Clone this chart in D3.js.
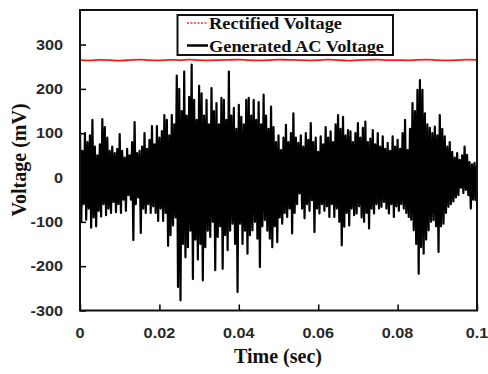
<!DOCTYPE html>
<html><head><meta charset="utf-8">
<script src="https://cdn.jsdelivr.net/npm/d3@7/dist/d3.min.js"></script>
<style>html,body{margin:0;padding:0;background:#fff;}svg{display:block;}</style>
</head><body>
<svg id="chart" width="488" height="374"></svg>
<script>
// ---------- data ----------
const xTicks = [0, 0.02, 0.04, 0.06, 0.08, 0.1];
const xTickLabels = ["0", "0.02", "0.04", "0.06", "0.08", "0.1"];
const yTicks = [-300, -200, -100, 0, 100, 200, 300];
const yTickLabels = ["-300", "-200", "-100", "0", "100", "200", "300"];
const seriesNames = ["Rectified Voltage", "Generated AC Voltage"];
const sampleStep = 0.000625; // sec between successive positive peaks

// positive swings of the generated AC voltage (mV)
const acHigh = [105,60,100,80,95,130,70,50,75,132,114,90,60,70,55,65,98,60,45,65,
  50,80,125,55,60,70,100,65,85,116,75,116,90,105,141,130,95,141,120,230,
  200,150,239,140,182,255,175,130,207,190,140,175,120,202,150,168,120,180,175,130,
  239,140,157,110,164,137,120,175,180,140,175,130,170,120,187,140,110,160,114,80,
  95,62,90,119,80,100,145,90,78,95,70,100,85,123,80,90,58,93,75,114,
  90,104,80,120,141,110,137,95,107,104,80,100,123,90,112,126,80,88,107,75,
  100,70,93,65,78,60,93,70,85,65,100,130,62,110,168,150,198,220,198,145,
  120,112,100,115,95,141,110,93,70,80,58,45,55,40,50,70,51,35,30,33,28];
// negative swings of the generated AC voltage (mV)
const acLow = [-100,-60,-95,-70,-113,-90,-110,-75,-88,-60,-85,-70,-80,-55,-78,-60,-80,-50,-75,-40,
  -50,-141,-60,-45,-125,-70,-80,-60,-80,-65,-80,-98,-70,-98,-80,-154,-130,-108,-90,-247,
  -277,-150,-180,-157,-120,-229,-140,-185,-150,-232,-157,-120,-134,-100,-209,-134,-110,-206,-130,-164,
  -120,-104,-150,-258,-104,-150,-120,-172,-130,-119,-100,-138,-202,-110,-96,-120,-138,-157,-110,-146,
  -90,-104,-80,-89,-70,-126,-80,-60,-36,-70,-92,-60,-75,-51,-123,-70,-81,-60,-75,-65,
  -89,-60,-89,-70,-100,-153,-111,-80,-108,-70,-85,-81,-65,-90,-100,-80,-115,-70,-81,-60,
  -70,-66,-55,-70,-81,-60,-89,-65,-75,-60,-70,-80,-89,-95,-119,-150,-217,-157,-172,-140,
  -119,-100,-96,-110,-168,-110,-104,-80,-66,-60,-54,-45,-40,-23,-35,-28,-40,-70,-50,-51,-40];
// rectified voltage (mV), one reading every 0.0025 s
const rectified = [265,264.5,265.5,265,264,265,266,265,264.5,265.5,265,266,265,264.5,265,265.5,266,265,264.5,265,
  266,265.5,265,264.5,265,266,265,264,265,265.5,266,265,265,264.5,265.5,266,265,264.5,265,266,265.5];
const rectStep = 0.0025;

// ---------- build series ----------
const acSeries = [];
acHigh.forEach((v, i) => {
  acSeries.push({t: i * sampleStep, v: v});
  acSeries.push({t: (i + 0.5) * sampleStep, v: acLow[i]});
});
const rectSeries = rectified.map((v, i) => ({t: i * rectStep, v: v}));

// ---------- layout ----------
const svg = d3.select("#chart");
const L = 80, R = 477, T = 10, B = 310.5;
const x = d3.scaleLinear().domain([0, 0.1]).range([L, R]);
const y = d3.scaleLinear().domain([-300, 378]).range([B, T]);

svg.append("rect").attr("width", 488).attr("height", 374).attr("fill", "#fff");

svg.append("defs").append("clipPath").attr("id", "clip")
  .append("rect").attr("x", L).attr("y", T).attr("width", R - L).attr("height", B - T);

const plot = svg.append("g").attr("clip-path", "url(#clip)");

plot.append("path").datum(acSeries)
  .attr("fill", "none").attr("stroke", "#000").attr("stroke-width", 2.2)
  .attr("stroke-linejoin", "round")
  .attr("d", d3.line().x(d => x(d.t)).y(d => y(d.v)));

plot.append("path").datum(rectSeries)
  .attr("fill", "none").attr("stroke", "#ff1a1a").attr("stroke-width", 1.8)
  .attr("d", d3.line().curve(d3.curveMonotoneX).x(d => x(d.t)).y(d => y(d.v)));

// ---------- axes ----------
const tickFont = "'Liberation Sans', Arial, sans-serif";
const serif = "'Liberation Serif', 'Times New Roman', serif";

const yAxis = d3.axisLeft(y).tickValues(yTicks).tickSize(-6).tickFormat((d, i) => yTickLabels[i]).tickPadding(0);
const gy = svg.append("g").attr("transform", `translate(${L},0)`).call(yAxis);
gy.select(".domain").remove();
gy.selectAll(".tick line").attr("stroke", "#000").attr("stroke-width", 1.5);
gy.selectAll(".tick text").remove();
yTicks.forEach((v, i) => {
  svg.append("text").attr("x", 0).attr("y", 0)
    .attr("transform", `translate(63,${y(v) + 5}) scale(1.16,1)`)
    .attr("text-anchor", "end")
    .attr("font-family", tickFont).attr("font-weight", "bold").attr("font-size", 14)
    .attr("fill", "#2a2a2a").text(yTickLabels[i]);
});

const xAxis = d3.axisBottom(x).tickValues(xTicks).tickSize(-6).tickFormat((d, i) => xTickLabels[i]);
const gx = svg.append("g").attr("transform", `translate(0,${B})`).call(xAxis);
gx.select(".domain").remove();
gx.selectAll(".tick line").attr("stroke", "#000").attr("stroke-width", 1.5);
gx.selectAll(".tick text").remove();
xTicks.forEach((v, i) => {
  svg.append("text").attr("x", 0).attr("y", 0)
    .attr("transform", `translate(${x(v)},${338}) scale(1.16,1)`)
    .attr("text-anchor", "middle")
    .attr("font-family", tickFont).attr("font-weight", "bold").attr("font-size", 14)
    .attr("fill", "#2a2a2a").text(xTickLabels[i]);
});

// frame
svg.append("rect").attr("x", L).attr("y", T).attr("width", R - L).attr("height", B - T)
  .attr("fill", "none").attr("stroke", "#111").attr("stroke-width", 2);

// axis titles
svg.append("text").attr("x", 278).attr("y", 363).attr("text-anchor", "middle")
  .attr("font-family", serif).attr("font-weight", "bold").attr("font-size", 20)
  .attr("fill", "#111").text("Time (sec)");
svg.append("text").attr("transform", "translate(26,160) rotate(-90)").attr("text-anchor", "middle")
  .attr("font-family", serif).attr("font-weight", "bold").attr("font-size", 20)
  .attr("fill", "#111").text("Voltage (mV)");

// ---------- legend ----------
const lg = svg.append("g");
lg.append("rect").attr("x", 177.5).attr("y", 15).attr("width", 215.5).attr("height", 40)
  .attr("fill", "#fff").attr("stroke", "#111").attr("stroke-width", 2);
lg.append("line").attr("x1", 187).attr("x2", 208).attr("y1", 23).attr("y2", 23)
  .attr("stroke", "#ff3030").attr("stroke-width", 1.5).attr("stroke-dasharray", "2,1.5");
lg.append("line").attr("x1", 187).attr("x2", 208).attr("y1", 45.5).attr("y2", 45.5)
  .attr("stroke", "#000").attr("stroke-width", 2.5);
lg.append("text").attr("x", 209).attr("y", 29).attr("font-family", serif).attr("font-weight", "bold")
  .attr("font-size", 16.5).attr("fill", "#111").attr("textLength", 133).attr("lengthAdjust", "spacingAndGlyphs")
  .text(seriesNames[0]);
lg.append("text").attr("x", 209).attr("y", 51.5).attr("font-family", serif).attr("font-weight", "bold")
  .attr("font-size", 16.5).attr("fill", "#111").attr("textLength", 175).attr("lengthAdjust", "spacingAndGlyphs")
  .text(seriesNames[1]);
</script>
</body></html>
